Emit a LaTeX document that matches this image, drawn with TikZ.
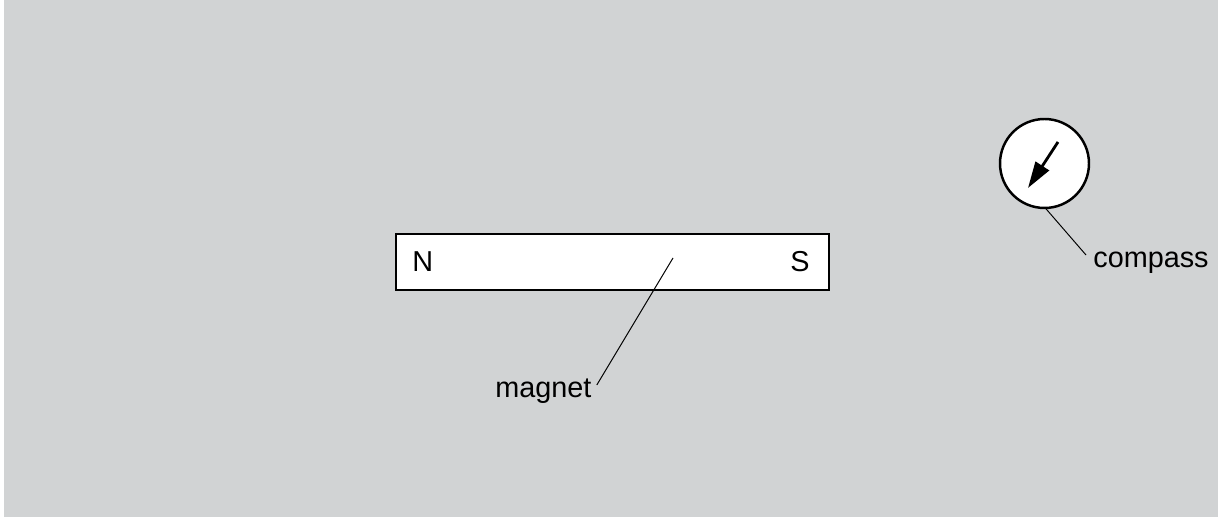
\documentclass[tikz,border=0pt]{standalone}
\usepackage{fontspec}
\setmainfont{Liberation Sans}
\usetikzlibrary{arrows.meta,calc}
\definecolor{panel}{RGB}{209,211,212}

\begin{document}
\begin{tikzpicture}[
x=0.02cm, y=-0.02cm,
  every node/.style = {font=\fontsize{16.4}{19}\selectfont},
    bar/.style = {rectangle, draw, fill=white, line width=1.4pt,% body of the magnet
                minimum width=8.66cm, minimum height=1.12cm,
                outer sep=0pt},
   dial/.style = {circle, draw, fill=white, line width=1.4pt,% body of the compass
                minimum size=1.78cm, outer sep=0pt},
  label/.style = {anchor=base west, inner sep=0pt},
   lead/.style = {line width=0.55pt},
                        ]
\useasboundingbox (0,0) rectangle (1218,519);
\fill[panel] (4,0) rectangle (1218,517);
% magnet
\node[bar] (magnet) at (612.5,262) {};
\node[label] (north) at (412,272) {N};
\node[label,anchor=base east] (south) at (810,272) {S};
\node[label] (magnet-text) at (495,398) {magnet};
\coordinate (magnet-tip) at (673,258);
\draw[lead] (magnet-tip) -- ($(magnet-text.base east)+(5,-13)$);
% compass
\node[dial] (compass) at (1044.5,163.5) {};
\coordinate (needle-tail) at (1058,142);
\coordinate (needle-tip) at (1028,188);
\draw[line width=1.6pt,-{Triangle[length=15pt,width=9pt]}] (needle-tail) -- (needle-tip);
\node[label] (compass-text) at (1093,268) {compass};
\draw[lead] (compass.-89) -- ($(compass-text.base west)+(-7,-13)$);
\end{tikzpicture}
\end{document}
